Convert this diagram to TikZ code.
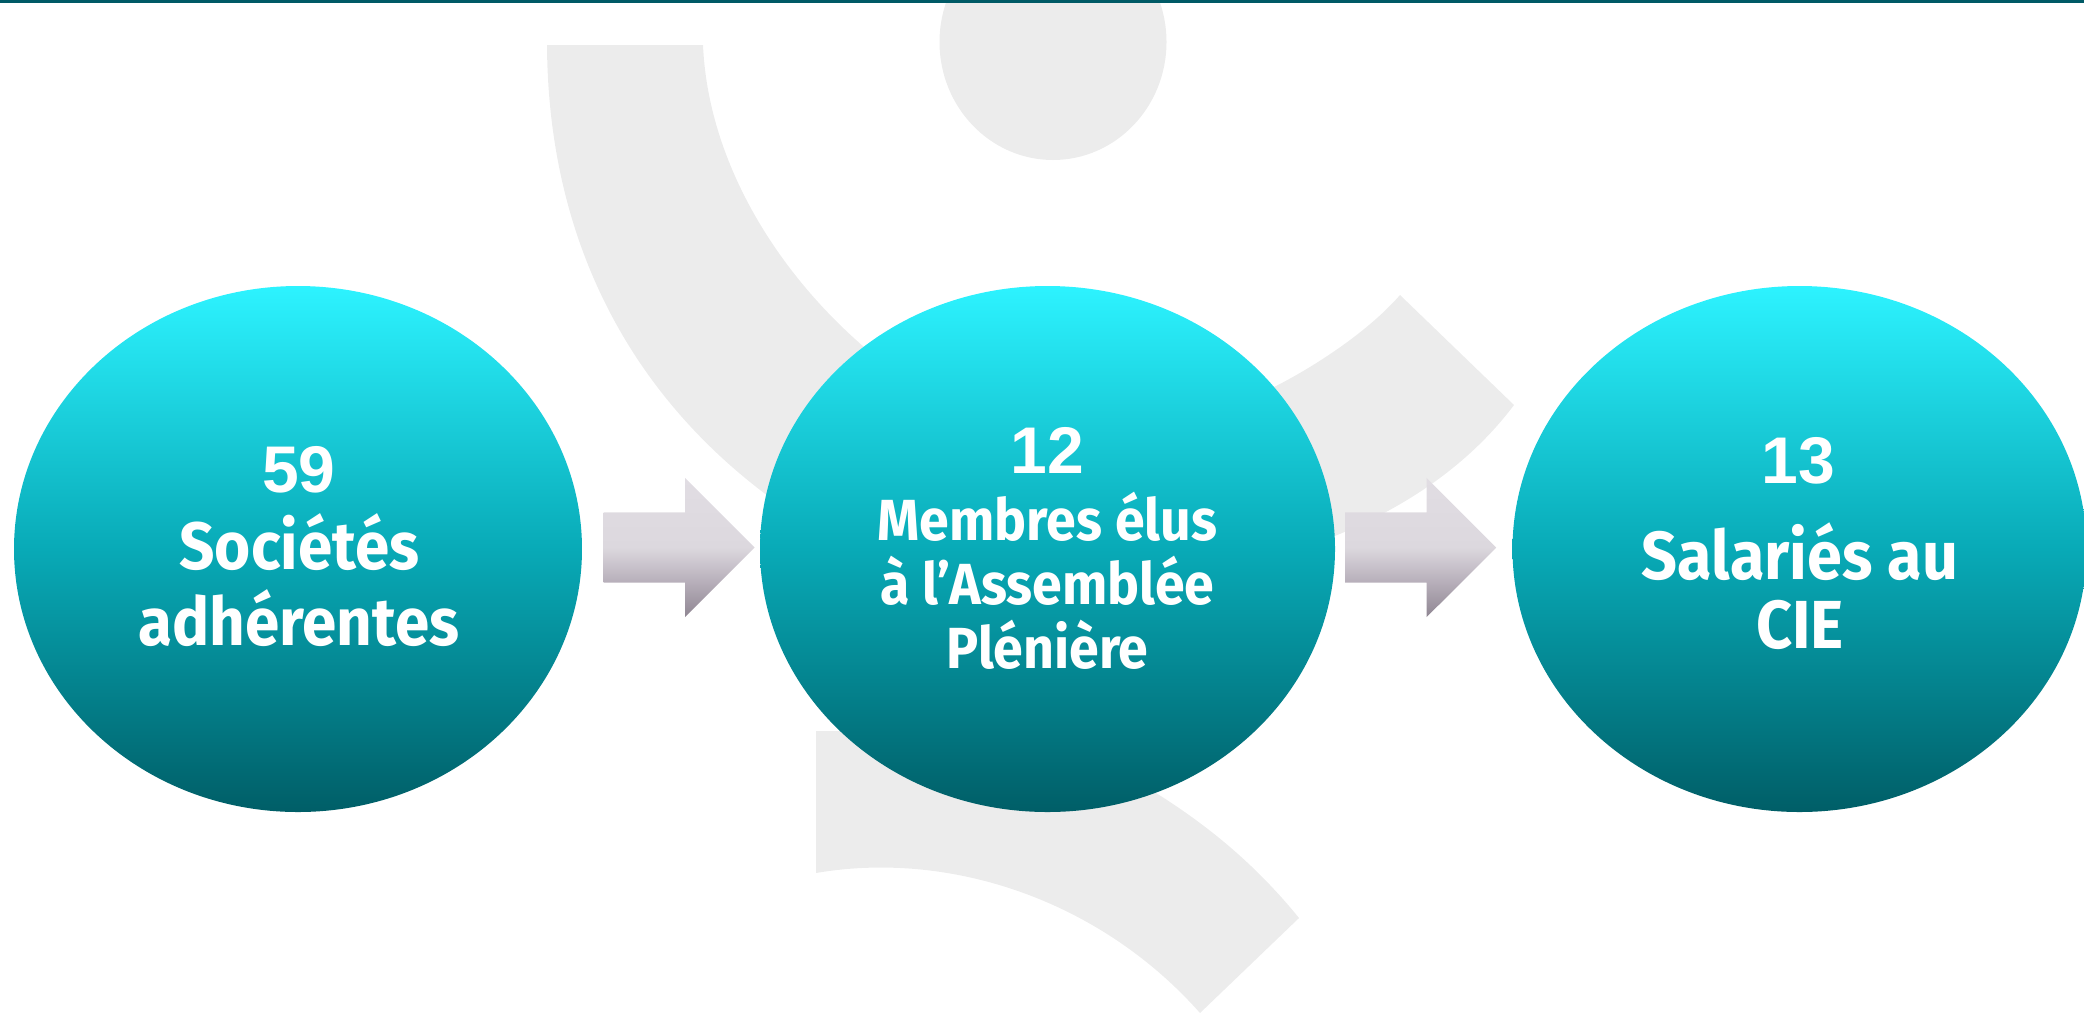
\documentclass[tikz,border=0pt]{standalone}
\usepackage{fontspec}
\setmainfont{Fira Sans}[BoldFont={* Bold},FakeStretch=0.925]
\newfontfamily\numfont{Liberation Sans}
\usetikzlibrary{shapes.geometric,shapes.arrows}
\definecolor{ballT}{HTML}{2DF3FF}
\definecolor{ballM}{HTML}{08AAB7}
\definecolor{ballB}{HTML}{005E67}
\definecolor{arrT}{HTML}{E1DDE3}
\definecolor{arrM}{HTML}{DCD8DE}
\definecolor{arrL}{HTML}{B8B0BB}
\definecolor{arrB}{HTML}{8F8692}
\definecolor{logogrey}{HTML}{ECECEC}
\definecolor{topbar}{HTML}{005A66}
\pgfdeclareverticalshading{ballshade}{100bp}{color(0bp)=(ballB); color(25bp)=(ballB); color(50bp)=(ballM); color(75bp)=(ballT); color(100bp)=(ballT)}
\pgfdeclareverticalshading{arrowshade}{100bp}{color(0bp)=(arrB); color(25bp)=(arrB); color(38bp)=(arrL); color(50bp)=(arrM); color(75bp)=(arrT); color(100bp)=(arrT)}
\tikzset{
  ball/.style={ellipse,minimum height=526pt,inner sep=0pt,shading=ballshade,draw=none},
  blockarrow/.style={single arrow,anchor=tip,minimum height=151pt,inner sep=0pt,text height=35pt,text depth=35pt,
    single arrow head extend=34.5pt,single arrow tip angle=90,shading=arrowshade,draw=none},
  line/.style={text=white,font=\fontsize{#1}{#1}\selectfont\bfseries,inner sep=0pt,anchor=base},
  numline/.style={text=white,font=\fontsize{66}{66}\selectfont\numfont\bfseries,inner sep=0pt,anchor=base},
  logo/.style={fill=logogrey,draw=none}
}
\begin{document}
\begin{tikzpicture}[x=1pt,y=-1pt]
\useasboundingbox (0,0) rectangle (2084,1013);
\clip (0,0) rectangle (2084,1013);
% background logo
\fill[logo] (1053,42) ellipse [x radius=113.5,y radius=118];
\fill[logo] (547,45) -- (703,45)
  .. controls (708,160) and (775,270) .. (864,347)
  .. controls (950,420) and (1140,454) .. (1274,387)
  .. controls (1308,370) and (1365,335) .. (1400,295)
  -- (1514,405)
  .. controls (1420,530) and (1250,575) .. (1100,590)
  .. controls (1000,600) and (850,560) .. (764,493)
  .. controls (622,385) and (548,230) .. (547,45) -- cycle;
\fill[logo] (816,731) -- (1000,731) -- (1156,793)
  .. controls (1215,830) and (1260,870) .. (1299,918)
  -- (1200,1013)
  .. controls (1100,900) and (950,850) .. (816,873) -- cycle;
\fill[topbar] (0,0) rectangle (2084,3);
% circles
\node[ball,minimum width=568pt] (e1) at (298,549) {};
\node[ball,minimum width=575pt] (e2) at (1047.5,549) {};
\node[ball,minimum width=574pt] (e3) at (1799.5,549) {};
% arrows
\node[blockarrow] (a1) at (755,547.5) {};
\node[blockarrow] (a2) at (1496.5,547.5) {};
% text
\node[numline] (n1) at (299,492) {59};
\node[line=67] (t1a) at (299.5,569) {Sociétés};
\node[line=67] (t1b) at (299,645) {adhérentes};
\node[numline] (n2) at (1047,473) {12};
\node[line=58] (t2a) at (1047.5,540) {Membres élus};
\node[line=58] (t2b) at (1047.5,604) {à l’Assemblée};
\node[line=58] (t2c) at (1047.5,668) {Plénière};
\node[numline] (n3) at (1798,483) {13};
\node[line=68] (t3a) at (1800,579) {Salariés au};
\node[line=68] (t3b) at (1800,648) {CIE};
\end{tikzpicture}
\end{document}
